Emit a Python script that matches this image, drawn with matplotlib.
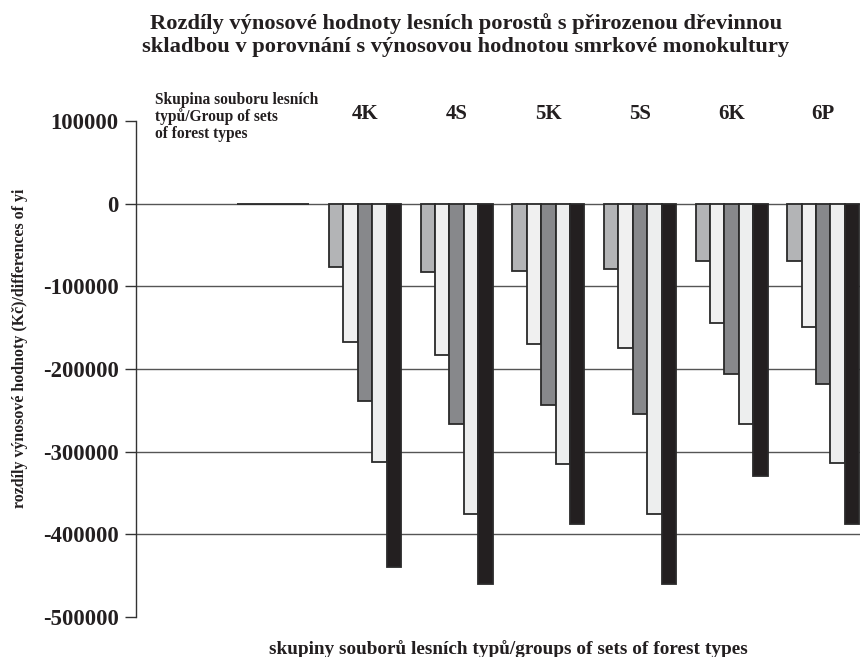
import matplotlib
matplotlib.use("Agg")
import matplotlib.pyplot as plt
import numpy as np
from matplotlib.ticker import FuncFormatter, FixedLocator

plt.rcParams['font.family'] = ['Liberation Serif', 'DejaVu Serif']
plt.rcParams['font.weight'] = 'bold'

# Categories along x: an empty slot, the spruce reference group, then forest type groups
categories = ["", "ref", "4K", "4S", "5K", "5S", "6K", "6P"]
group_note = "Skupina souboru lesních\ntypů/Group of sets\nof forest types"

# Differences of yield value (CZK), five series per group
s1 = [0, 0, -76500, -83000, -81000, -79000, -69000, -69000]
s2 = [0, 0, -167000, -183000, -170000, -174000, -144000, -149000]
s3 = [0, 0, -239000, -267000, -243000, -254000, -206000, -218000]
s4 = [0, 0, -312000, -375000, -315000, -375000, -267000, -314000]
s5 = [0, 0, -440000, -460000, -387000, -460000, -330000, -387000]
series = [s1, s2, s3, s4, s5]
colors = ["#b3b4b6", "#f0f0f0", "#87888b", "#edeeee", "#231f20"]

yticks = [100000, 0, -100000, -200000, -300000, -400000, -500000]
gridvals = [0, -100000, -200000, -300000, -400000]

fig = plt.figure(figsize=(8.6, 6.57), dpi=100)
ax = fig.add_axes([136 / 860, 1 - 617 / 657, 733 / 860, (617 - 121) / 657])

# Skip the empty first slot
idx = np.arange(1, len(categories))
bw = 0.157
for i, (vals, col) in enumerate(zip(series, colors)):
    ax.bar(idx + (i - 2) * bw, np.array(vals)[1:], width=bw, color=col,
           edgecolor="#2a2a2a", linewidth=1.3, zorder=3)

for g in gridvals:
    ax.axhline(g, color="#555555", linewidth=1.0, zorder=1)

ax.set_xlim(-0.5, len(categories) - 0.5)
ax.set_ylim(-500000, 100000)

for sp in ["top", "right", "bottom"]:
    ax.spines[sp].set_visible(False)
ax.spines["left"].set_color("#333333")
ax.spines["left"].set_linewidth(1.0)

ax.set_xticks([])
ax.yaxis.set_major_locator(FixedLocator(yticks))
ax.yaxis.set_major_formatter(FuncFormatter(lambda v, p: f"{int(v)}"))
ax.tick_params(axis="y", direction="out", length=8, width=1, color="#333333",
               labelsize=16.3, pad=4.5)
for t in ax.get_yticklabels():
    t.set_fontweight("bold")
    t.set_color("#231f20")

# Group labels above the bars
for k, lab in enumerate(categories):
    if k >= 2:
        ax.text(k, 108000, lab, ha="center", va="center", fontsize=15,
                fontweight="bold", color="#231f20", clip_on=False)
ax.text(155 / 860, 1 - 117 / 657, group_note, transform=fig.transFigure,
        ha="left", va="center", fontsize=11.2, fontweight="bold",
        color="#231f20", linespacing=1.05)

fig.text(466 / 860, 1 - 35 / 657,
         "Rozdíly výnosové hodnoty lesních porostů s přirozenou dřevinnou\n"
         "skladbou v porovnání s výnosovou hodnotou smrkové monokultury",
         ha="center", va="center", fontsize=16.2, fontweight="bold",
         color="#231f20", linespacing=1.25)

fig.text(20 / 860, 1 - 348 / 657, "rozdíly výnosové hodnoty (Kč)/differences of yi",
         rotation=90, ha="center", va="center", fontsize=11.4, fontweight="bold",
         color="#231f20")

fig.text(508 / 860, 1 - 649 / 657,
         "skupiny souborů lesních typů/groups of sets of forest types",
         ha="center", va="center", fontsize=13.9, fontweight="bold", color="#231f20")

fig.savefig("out.png", dpi=100, facecolor="white")
